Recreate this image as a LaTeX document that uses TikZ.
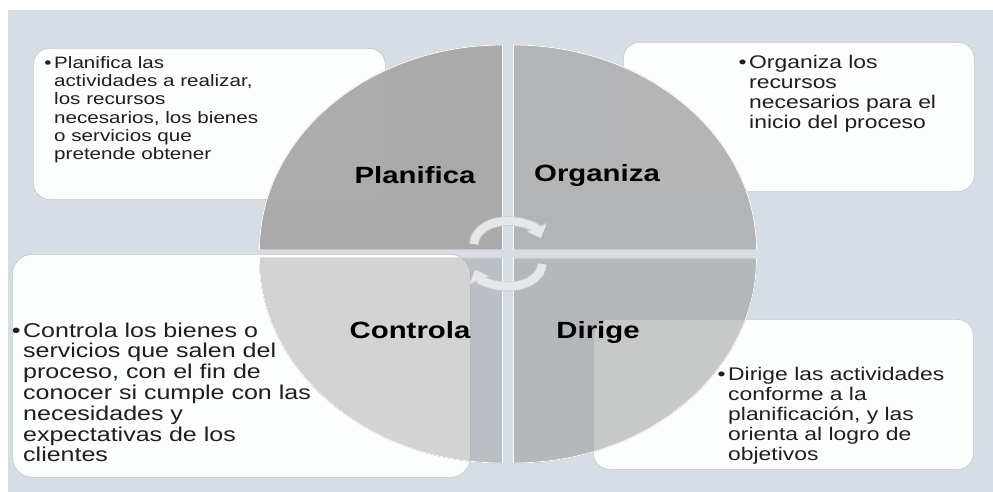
\documentclass[tikz,border=0pt]{standalone}
\usepackage{fontspec}
\setmainfont{Liberation Sans}[FakeStretch=1.25]
\usepackage{tikz}
\usetikzlibrary{arrows.meta}
\definecolor{bgcol}{HTML}{D7DDE4}
\definecolor{boxfill}{HTML}{FCFDFD}
\definecolor{boxline}{HTML}{C4C8CD}
\definecolor{bodycol}{HTML}{1E1E1E}
\definecolor{quadplan}{HTML}{A8A8A8}
\definecolor{quadorg}{HTML}{B2B2B3}
\definecolor{quadcon}{HTML}{8D8D8D}
\definecolor{quaddir}{HTML}{949494}
\definecolor{arrowcol}{HTML}{E6E7E8}
\definecolor{arrowedge}{HTML}{CACDD1}
\newcommand{\bul}{\llap{\textbullet\hspace{2.5pt}}}

\begin{document}
\begin{tikzpicture}[x=1pt,y=-1pt,
	textbox/.style={draw=boxline,fill=boxfill,line width=0.7pt,rounded corners=16pt,anchor=north west,inner sep=0pt},
	bodytext/.style={anchor=north west,inner sep=0pt,align=left,text=bodycol},
	quad/.style={draw=white,line width=0.8pt,draw opacity=1},
	steplabel/.style={anchor=base,font=\fontsize{23.5}{26}\selectfont\bfseries},
	turnedge/.style={line width=9.6pt,draw=arrowedge,-{Triangle[width=21.5pt,length=12pt]}},
	turn/.style={line width=8pt,draw=arrowcol,-{Triangle[width=19pt,length=10.5pt]}}]
	\useasboundingbox (0,0) rectangle (993,492);
	\fill[white] (0,0) rectangle (993,492);
	\fill[bgcol] (8,10) rectangle (993,492);
	\node[textbox,minimum width=352pt,minimum height=151pt] (bplan) at (33,48) {};
	\node[textbox,minimum width=351pt,minimum height=149pt] (borg) at (623,42) {};
	\node[textbox,minimum width=458pt,minimum height=223pt,rounded corners=20pt] (bcon) at (12,254) {};
	\node[textbox,minimum width=380pt,minimum height=150pt] (bdir) at (593,319) {};
	\coordinate (hub) at (508,254);
	\fill[quad,quadplan,fill opacity=0.95] (502.5,250) -- +(-243,0) arc[start angle=180,end angle=270,x radius=243,y radius=205] -- cycle;
	\fill[quad,quadorg,fill opacity=0.95] (513.5,250) -- +(0,-205) arc[start angle=270,end angle=360,x radius=243,y radius=205] -- cycle;
	\fill[quad,quaddir,fill opacity=0.5] (513.5,258) -- +(243,0) arc[start angle=0,end angle=90,x radius=243,y radius=205] -- cycle;
	\fill[quad,quadcon,fill opacity=0.37] (502.5,258) -- +(0,205) arc[start angle=90,end angle=180,x radius=243,y radius=205] -- cycle;
	\draw[quad] (502.5,250) -- +(-243,0) arc[start angle=180,end angle=270,x radius=243,y radius=205] -- cycle;
	\draw[quad] (513.5,250) -- +(0,-205) arc[start angle=270,end angle=360,x radius=243,y radius=205] -- cycle;
	\draw[quad] (513.5,258) -- +(243,0) arc[start angle=0,end angle=90,x radius=243,y radius=205] -- cycle;
	\draw[quad] (502.5,258) -- +(0,205) arc[start angle=90,end angle=180,x radius=243,y radius=205] -- cycle;
	\draw[turnedge] ([shift={(-34,-10)}]hub) arc[start angle=180,end angle=345,x radius=34,y radius=23];
	\draw[turnedge] ([shift={(34,10)}]hub) arc[start angle=0,end angle=165,x radius=34,y radius=22.5];
	\draw[turn] ([shift={(-34,-10)}]hub) arc[start angle=180,end angle=345,x radius=34,y radius=23];
	\draw[turn] ([shift={(34,10)}]hub) arc[start angle=0,end angle=165,x radius=34,y radius=22.5];
	\node[steplabel] (lplan) at (415,183) {Planifica};
	\node[steplabel] (lorg) at (597,182) {Organiza};
	\node[steplabel] (lcon) at (410,338) {Controla};
	\node[steplabel] (ldir) at (598,338) {Dirige};
	\node[bodytext,font=\fontsize{16.5}{18.3}\selectfont] (tplan) at (54,56) {\bul Planifica las\\actividades a realizar,\\los recursos\\necesarios, los bienes\\o servicios que\\pretende obtener};
	\node[bodytext,font=\fontsize{18.3}{20}\selectfont] (torg) at (749,54.7) {\bul Organiza los\\recursos\\necesarios para el\\inicio del proceso};
	\node[bodytext,font=\fontsize{20}{20.8}\selectfont] (tcon) at (23,322.5) {\bul Controla los bienes o\\servicios que salen del\\proceso, con el fin de\\conocer si cumple con las\\necesidades y\\expectativas de los\\clientes};
	\node[bodytext,font=\fontsize{18.3}{20}\selectfont] (tdir) at (728,366.7) {\bul Dirige las actividades\\conforme a la\\planificación, y las\\orienta al logro de\\objetivos};
\end{tikzpicture}
\end{document}
